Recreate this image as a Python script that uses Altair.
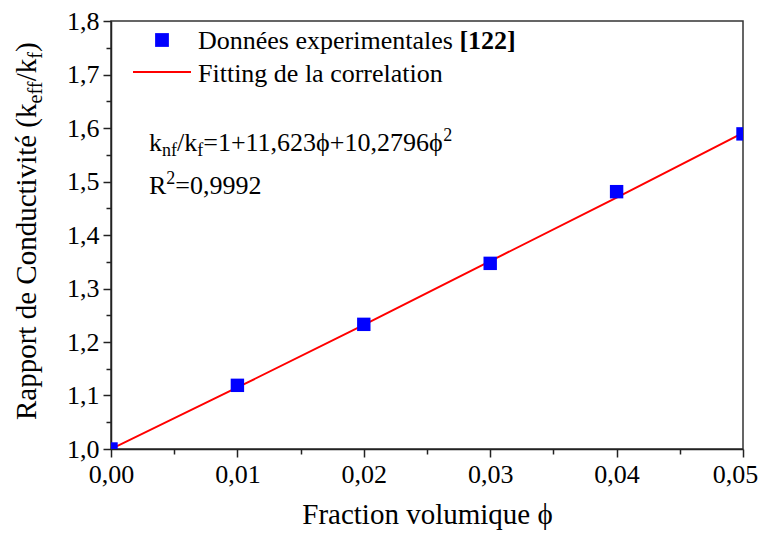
import altair as alt
import pandas as pd

# ---- data ----
phi_exp = [0.00, 0.01, 0.02, 0.03, 0.04, 0.05]
k_exp = [1.000, 1.119, 1.233, 1.347, 1.481, 1.589]
phi_fit = [0.00, 0.01, 0.02, 0.03, 0.04, 0.05]
k_fit = [1.000, 1.115, 1.232, 1.351, 1.470, 1.591]
x_ticks = [0.0, 0.005, 0.01, 0.015, 0.02, 0.025, 0.03, 0.035, 0.04, 0.045, 0.05]
y_ticks = [1.0, 1.05, 1.1, 1.15, 1.2, 1.25, 1.3, 1.35, 1.4, 1.45, 1.5, 1.55, 1.6,
           1.65, 1.7, 1.75, 1.8]

FONT = "'Liberation Serif', 'Times New Roman', Times, serif"
W_PLOT, H_PLOT = 632, 428

# Times / Liberation Serif advance widths (per 1000 em)
WID = {' ': 250, '(': 333, ')': 333, '/': 278, '=': 564, '+': 564, ',': 250, '.': 250,
       '[': 333, ']': 333, 'R': 667, 'C': 667, 'D': 722, 'F': 556,
       'a': 444, 'c': 444, 'd': 500, 'e': 444, 'f': 333, 'g': 500, 'i': 278, 'k': 500,
       'l': 278, 'm': 778, 'n': 500, 'o': 500, 'p': 500, 'q': 500, 'r': 333, 's': 389,
       't': 278, 'u': 500, 'v': 500, 'x': 500, 'é': 444, 'ϕ': 520}
for d in '0123456789':
    WID[d] = 500


def tw(s, size):
    return sum(WID.get(c, 500) for c in s) * size / 1000.0


def piece(text, x, y, size, angle=0, weight="normal", align="left", color="black"):
    return alt.Chart(pd.DataFrame({"t": [text]})).mark_text(
        font=FONT, fontSize=size, fontWeight=weight, align=align,
        baseline="alphabetic", angle=angle, color=color, clip=False
    ).encode(text="t:N", x=alt.value(x), y=alt.value(y))


exp_df = pd.DataFrame({"phi": phi_exp, "k": k_exp})
fit_df = pd.DataFrame({"phi": phi_fit, "k": k_fit})

x_major = "abs(datum.value*100 - round(datum.value*100)) < 0.001"
y_major = "abs(datum.value*10 - round(datum.value*10)) < 0.001"

x_enc = alt.X("phi:Q", scale=alt.Scale(domain=[0, 0.05], nice=False, zero=False),
              axis=alt.Axis(values=x_ticks, grid=False, labelFlush=False, labelOverlap=False,
                            tickSize=alt.condition(x_major, alt.value(8), alt.value(5)),
                            labelOffset=alt.condition("datum.value > 0.049", alt.value(-8), alt.value(0)),
                            labelExpr=f"({x_major}) ? replace(format(datum.value, '.2f'), '.', ',') : ''",
                            title="Fraction volumique  ϕ", titleFontSize=29, titlePadding=13))
y_enc = alt.Y("k:Q", scale=alt.Scale(domain=[1.0, 1.8], nice=False, zero=False),
              axis=alt.Axis(values=y_ticks, grid=False, labelFlush=False, labelOverlap=False,
                            tickSize=alt.condition(y_major, alt.value(8), alt.value(5)),
                            labelExpr=f"({y_major}) ? replace(format(datum.value, '.1f'), '.', ',') : ''",
                            title=None))

line = alt.Chart(fit_df).mark_line(color="#ff0000", strokeWidth=2, clip=True).encode(
    x=x_enc, y=y_enc)
pts = alt.Chart(exp_df).mark_square(color="#0000ff", opacity=1, size=180, clip=True).encode(
    x=x_enc, y=y_enc)

layers = [line, pts]

# ---- legend ----
layers.append(alt.Chart(pd.DataFrame({"a": [0]})).mark_square(
    color="#0000ff", opacity=1, size=190).encode(x=alt.value(51), y=alt.value(19)))
layers.append(alt.Chart(pd.DataFrame({"a": [0]})).mark_rule(
    color="#ff0000", strokeWidth=2).encode(x=alt.value(22), x2=alt.value(80), y=alt.value(51)))
LS = 26
lx = 87
t1 = "Données experimentales "
layers.append(piece(t1, lx, 28, LS))
layers.append(piece("[122]", lx + tw(t1, LS), 28, LS, weight="bold"))
layers.append(piece("Fitting de la correlation", lx, 61, LS))

# ---- equation ----
ES, SS = 26, 18
ex, ey = 38, 130
parts = [("k", 0, ES), ("nf", 5, SS), ("/k", 0, ES), ("f", 5, SS),
         ("=1+11,623ϕ+10,2796ϕ", 0, ES), ("2", -10, SS)]
cx = ex
for txt, dy, sz in parts:
    layers.append(piece(txt, cx, ey + dy, sz))
    cx += tw(txt, sz)
ey2 = 173
cx = ex
for txt, dy, sz in [("R", 0, ES), ("2", -10, SS), ("=0,9992", 0, ES)]:
    layers.append(piece(txt, cx, ey2 + dy, sz))
    cx += tw(txt, sz)

# ---- y title (rotated, with subscripts) ----
TS, TSS = 29, 20
bx = -75
cy = 399
for txt, dx, sz in [("Rapport de Conductivité (k", 0, TS), ("eff", 6, TSS), ("/k", 0, TS),
                    ("f", 6, TSS), (" )", 0, TS)]:
    layers.append(piece(txt, bx + dx, cy, sz, angle=270))
    cy -= tw(txt, sz)

chart = alt.layer(*layers).properties(
    width=W_PLOT, height=H_PLOT,
    autosize=alt.AutoSizeParams(type="none"),
    padding={"left": 103, "top": 13, "right": 15, "bottom": 88},
).configure_view(
    stroke="#333333", strokeWidth=1.5
).configure_axis(
    labelFont=FONT, labelFontSize=26, labelColor="black", labelPadding=4,
    titleFont=FONT, titleFontSize=28, titleFontWeight="normal", titleColor="black",
    titlePadding=22, domainColor="#222222", domainWidth=1.5,
    tickColor="#222222", tickWidth=1.5
)

chart.save("out.html", embed_options={"renderer": "svg", "actions": False})
